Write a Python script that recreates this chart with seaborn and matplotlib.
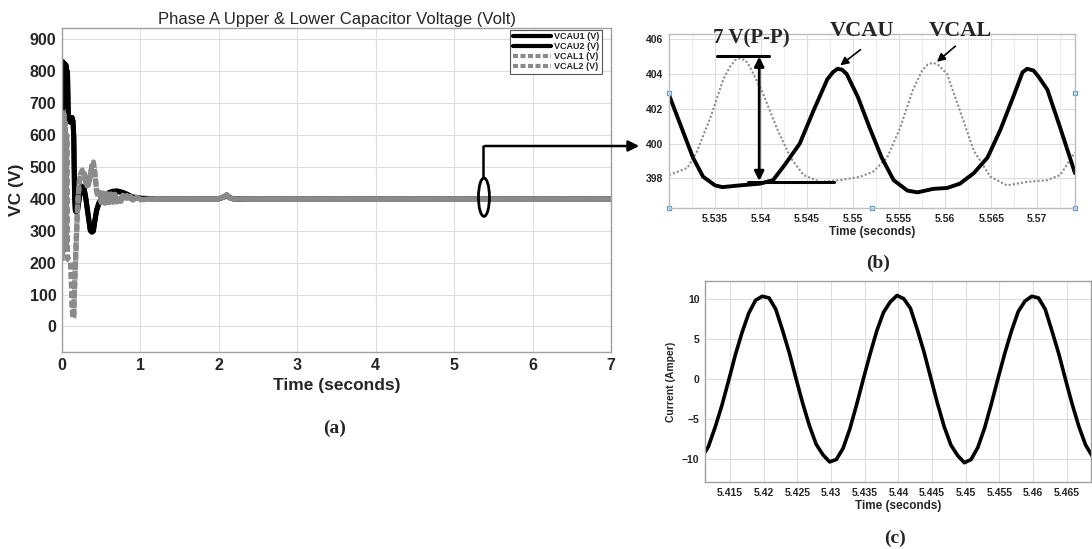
import matplotlib
matplotlib.use("Agg")
import matplotlib.pyplot as plt
import seaborn as sns
from matplotlib.patches import Ellipse, FancyArrowPatch
from matplotlib.lines import Line2D

# ---------------- panel (a): capacitor voltages, 0..7 s ----------------
t_vcau1 = [0.0, 0.01, 0.02, 0.03, 0.04, 0.05, 0.06, 0.07, 0.08, 0.09,
           0.10, 0.11, 0.12, 0.13, 0.14, 0.15, 0.16, 0.17, 0.18,
           0.20, 0.22, 0.25, 0.28, 0.30, 0.32, 0.34, 0.36, 0.38, 0.40,
           0.42, 0.44, 0.47, 0.50,
           0.55, 0.60, 0.65, 0.70, 0.75, 0.80, 0.85, 0.90, 1.00,
           1.20, 1.50, 2.00, 2.06, 2.10, 2.14, 2.20, 2.30,
           3.0, 4.0, 5.0, 6.0, 7.0]
v_vcau1 = [650, 830, 700, 825, 690, 820, 700, 800, 660, 655,
           640, 655, 645, 655, 640, 600, 420, 365, 360,
           365, 400, 440, 435, 410, 375, 340, 305, 295, 298,
           330, 360, 385, 395,
           410, 418, 422, 425, 422, 418, 412, 406, 402,
           400, 400, 400, 406, 412, 404, 398, 400,
           400, 400, 400, 400, 400]
t_vcau2 = t_vcau1
v_vcau2 = [640, 825, 705, 820, 695, 815, 705, 795, 655, 650,
           645, 650, 640, 650, 645, 590, 410, 362, 358,
           368, 405, 436, 430, 405, 370, 335, 300, 298, 302,
           335, 365, 388, 398,
           412, 420, 424, 423, 420, 416, 410, 405, 401,
           400, 400, 400, 405, 411, 403, 399, 400,
           400, 400, 400, 400, 400]

t_vcal1 = [0.0, 0.008, 0.016, 0.024, 0.032, 0.04, 0.05, 0.06, 0.07, 0.08,
           0.09, 0.10, 0.11, 0.12, 0.13, 0.14, 0.15, 0.16, 0.18, 0.20,
           0.22, 0.24, 0.26, 0.28, 0.30, 0.32, 0.34, 0.36, 0.38, 0.40,
           0.42, 0.44, 0.46, 0.48, 0.50, 0.525, 0.55, 0.575, 0.60, 0.625,
           0.65, 0.675, 0.70, 0.725, 0.75, 0.775, 0.80, 0.825, 0.85, 0.875,
           0.90, 0.95, 1.00, 1.20, 1.50, 2.00, 2.06, 2.10, 2.14, 2.20,
           2.30, 3.0, 4.0, 5.0, 6.0, 7.0]
v_vcal1 = [210, 670, 240, 665, 250, 640, 260, 600, 215, 212,
           210, 208, 205, 150, 60, 25, 30, 120, 250, 380,
           450, 480, 490, 485, 460, 440, 445, 470, 505, 515,
           480, 430, 405, 420, 388, 418, 386, 416, 388, 415,
           389, 414, 390, 412, 392, 411, 393, 410, 394, 408,
           395, 405, 397, 400, 400, 400, 406, 413, 404, 398,
           400, 400, 400, 400, 400, 400]
t_vcal2 = t_vcal1
v_vcal2 = [205, 660, 235, 655, 245, 630, 255, 590, 212, 210,
           208, 206, 200, 140, 55, 28, 35, 130, 260, 390,
           455, 478, 486, 480, 455, 438, 448, 475, 500, 510,
           475, 425, 408, 416, 391, 415, 389, 413, 390, 412,
           391, 411, 392, 410, 393, 409, 394, 408, 395, 406,
           396, 404, 398, 400, 400, 400, 405, 412, 403, 399,
           400, 400, 400, 400, 400, 400]

# ---------------- panel (b): zoom of VCAU / VCAL ----------------
t_b_u = [5.5300, 5.5326, 5.5337, 5.5350, 5.5358, 5.5377, 5.5399, 5.5413,
         5.5426, 5.5442, 5.5457, 5.5472, 5.5478, 5.5483, 5.5488, 5.5493,
         5.5505, 5.5518, 5.5531, 5.5544, 5.5559, 5.5570, 5.5587, 5.5602,
         5.5616, 5.5631, 5.5646, 5.5660, 5.5674, 5.5684, 5.5689, 5.5696,
         5.5702, 5.5711, 5.5725, 5.5741]
v_b_u = [402.8, 399.2, 398.1, 397.6, 397.5, 397.6, 397.7, 397.9,
         398.8, 400.0, 401.9, 403.7, 404.1, 404.3, 404.25, 404.0,
         402.7, 400.9, 399.2, 397.9, 397.3, 397.2, 397.4, 397.45,
         397.7, 398.3, 399.2, 400.8, 402.7, 404.1, 404.3, 404.2,
         403.8, 403.1, 400.9, 398.3]
t_b_l = [5.5300, 5.5320, 5.5330, 5.5345, 5.5359, 5.5366, 5.5372, 5.5377,
         5.5383, 5.5388, 5.5402, 5.5417, 5.5432, 5.5446, 5.5464, 5.5486,
         5.5508, 5.5522, 5.5537, 5.5551, 5.5565, 5.5575, 5.5581, 5.5587,
         5.5593, 5.5602, 5.5616, 5.5631, 5.5649, 5.5667, 5.5689, 5.5711,
         5.5725, 5.5741]
v_b_l = [398.2, 398.6, 399.5, 401.5, 403.7, 404.4, 404.8, 404.9,
         404.8, 404.4, 402.9, 400.9, 399.2, 398.2, 397.8, 397.9,
         398.1, 398.4, 399.2, 400.9, 403.1, 404.2, 404.55, 404.65,
         404.5, 404.0, 401.9, 399.6, 398.1, 397.6, 397.8, 397.9,
         398.2, 399.5]
b_xticks = [5.535, 5.54, 5.545, 5.55, 5.555, 5.56, 5.565, 5.57]
b_xlabels = ["5.535", "5.54", "5.545", "5.55", "5.555", "5.56", "5.565", "5.57"]
b_yticks = [398, 400, 402, 404, 406]

# ---------------- panel (c): phase current ----------------
t_c = [round(5.4108 + 0.001 * k, 4) for k in range(59)]
i_c = [-9.8, -8.4, -6.0, -3.3, -0.2, 3.0, 5.8, 8.2, 9.8, 10.3,
       10.1, 8.7, 6.1, 3.3, 0.1, -3.0, -5.8, -8.1, -9.4, -10.3,
       -10.0, -8.6, -6.2, -3.2, 0.0, 3.1, 6.0, 8.3, 9.6, 10.4,
       10.0, 8.8, 6.2, 3.4, 0.2, -3.0, -5.9, -8.2, -9.5, -10.4,
       -10.0, -8.5, -6.1, -3.1, 0.1, 3.2, 6.0, 8.4, 9.7, 10.3,
       10.1, 8.7, 6.0, 3.2, 0.0, -3.1, -5.9, -8.2, -9.6]
c_xticks = [5.415, 5.42, 5.425, 5.43, 5.435, 5.44, 5.445, 5.45, 5.455, 5.46, 5.465]
c_xlabels = ["5.415", "5.42", "5.425", "5.43", "5.435", "5.44", "5.445",
             "5.45", "5.455", "5.46", "5.465"]
c_yticks = [-10, -5, 0, 5, 10]

sns.set_theme(style="whitegrid")
plt.rcParams["font.family"] = ["Liberation Sans", "DejaVu Sans"]
plt.rcParams["grid.color"] = "#dedede"
plt.rcParams["grid.linewidth"] = 0.8
plt.rcParams["axes.edgecolor"] = "#a0a0a0"
plt.rcParams["axes.linewidth"] = 1.0

W, H = 1092, 549
fig = plt.figure(figsize=(W / 100, H / 100), dpi=100)


def box(l, t, r, b):
    return fig.add_axes([l / W, 1 - b / H, (r - l) / W, (b - t) / H])


def draw(ax, t, v, color, lw, label=None, ls=None, dashes=None):
    sns.lineplot(x=t, y=v, ax=ax, color=color, linewidth=lw,
                 estimator=None, sort=False, legend=False)
    line = ax.lines[-1]
    if ls is not None:
        line.set_linestyle(ls)
    if dashes is not None:
        line.set_dashes(dashes)
    if label:
        line.set_label(label)
    return line


def style_ticks(ax, size):
    ax.tick_params(axis="both", which="both", direction="in", length=3,
                   color="#a0a0a0", labelsize=size, labelcolor="#262626", pad=4)
    for lab in ax.get_xticklabels() + ax.get_yticklabels():
        lab.set_fontweight("bold")


# ---- (a)
ax_a = box(62, 28, 611, 352)
grey = "#8a8a8a"
h1 = draw(ax_a, t_vcau1, v_vcau1, "black", 3.6, "VCAU1 (V)")
h2 = draw(ax_a, t_vcau2, v_vcau2, "black", 3.6, "VCAU2 (V)")
h3 = draw(ax_a, t_vcal1, v_vcal1, grey, 3.8, "VCAL1 (V)", (0, (1.2, 0.6)))
h4 = draw(ax_a, t_vcal2, v_vcal2, grey, 3.8, "VCAL2 (V)", (0.8, (1.2, 0.6)))
ax_a.set_xlim(0, 7)
ax_a.set_ylim(-80, 935)
ax_a.set_xticks(range(0, 8))
ax_a.set_yticks(range(0, 1000, 100))
style_ticks(ax_a, 11.5)
ax_a.set_title("Phase A Upper & Lower Capacitor Voltage (Volt)", fontsize=12,
               color="#262626", pad=3)
ax_a.set_xlabel("Time (seconds)", fontsize=12.5, fontweight="bold", color="#262626", labelpad=4)
ax_a.set_ylabel("VC (V)", fontsize=12.5, fontweight="bold", color="#262626", labelpad=4)
leg = ax_a.legend(handles=[h1, h2, h3, h4], loc="upper right",
                  bbox_to_anchor=(0.984, 0.995), borderaxespad=0,
                  prop={"weight": "bold", "size": 6.5}, handlelength=4.2,
                  handletextpad=0.4, labelspacing=0.1, borderpad=0.3,
                  fancybox=False, framealpha=1, edgecolor="#555555")
leg.get_frame().set_linewidth(0.8)
for lh in leg.get_lines():
    lh.set_linewidth(3.0)
leg.get_lines()[3].set_linestyle((0, (1.2, 0.6)))
ax_a.add_patch(Ellipse((5.38, 405), width=0.14, height=120, fill=False,
                       ec="black", lw=2, zorder=5))

# connector from (a) to (b)
fig.add_artist(Line2D([483 / W, 483 / W], [1 - 178 / H, 1 - 146 / H],
                      transform=fig.transFigure, color="black", lw=1.8))
fig.add_artist(FancyArrowPatch((482 / W, 1 - 146 / H), (642 / W, 1 - 146 / H),
                               transform=fig.transFigure, arrowstyle="-|>",
                               mutation_scale=16, color="black", lw=1.8))

# ---- (b)
ax_b = box(669, 34, 1075, 208)
draw(ax_b, t_b_l, v_b_l, "#8c8c8c", 1.5, dashes=(1, 1))
draw(ax_b, t_b_u, v_b_u, "black", 2.8)
ax_b.set_xlim(5.5300, 5.5741)
ax_b.set_ylim(396.3, 406.3)
ax_b.set_xticks(b_xticks)
ax_b.set_xticklabels(b_xlabels)
ax_b.set_yticks(b_yticks)
ax_b.set_xticks([x + 0.0025 for x in b_xticks] + [5.5325], minor=True)
ax_b.grid(which="minor", color="#ececec", lw=0.7)
style_ticks(ax_b, 7.5)
ax_b.set_xlabel("Time (seconds)", fontsize=8.5, fontweight="bold", color="#262626", labelpad=2)
for sp in ax_b.spines.values():
    sp.set_color("#bdbdbd")

serif = ["Liberation Serif", "DejaVu Serif"]
ax_b.plot([5.5352, 5.5409], [405.04, 405.04], color="black", lw=2.2, clip_on=False)
ax_b.plot([5.5386, 5.5479], [397.82, 397.82], color="black", lw=2.2, clip_on=False)
ax_b.annotate("", xy=(5.5398, 397.85), xytext=(5.5398, 405.0),
              arrowprops=dict(arrowstyle="<|-|>", color="black", lw=2, mutation_scale=14,
                              shrinkA=0, shrinkB=0))
ax_b.text(5.5389, 406.05, "7 V(P-P)", family=serif, fontsize=15, fontweight="bold",
          ha="center", va="center", clip_on=False)
ax_b.text(5.5510, 406.5, "VCAU", family=serif, fontsize=16, fontweight="bold",
          ha="center", va="center", clip_on=False)
ax_b.text(5.5616, 406.5, "VCAL", family=serif, fontsize=16, fontweight="bold",
          ha="center", va="center", clip_on=False)
ax_b.annotate("", xy=(5.5486, 404.5), xytext=(5.5508, 405.4),
              arrowprops=dict(arrowstyle="-|>", color="black", lw=1.2, mutation_scale=12,
                              shrinkA=0, shrinkB=0))
ax_b.annotate("", xy=(5.5591, 404.7), xytext=(5.5611, 405.6),
              arrowprops=dict(arrowstyle="-|>", color="black", lw=1.2, mutation_scale=12,
                              shrinkA=0, shrinkB=0))
# selection handles on the edited axes
ax_b.plot([0, 0, 0.5, 1, 1], [0.66, 0, 0, 0.66, 0], ls="none", marker="s", ms=3.5,
          mfc="white", mec="#5b9bd5", mew=0.9, transform=ax_b.transAxes, clip_on=False)

# ---- (c)
ax_c = box(705, 281, 1091, 482)
draw(ax_c, t_c, i_c, "black", 2.6)
ax_c.set_xlim(5.4113, 5.4686)
ax_c.set_ylim(-12.8, 12.2)
ax_c.set_xticks(c_xticks)
ax_c.set_xticklabels(c_xlabels)
ax_c.set_yticks(c_yticks)
style_ticks(ax_c, 7.5)
ax_c.set_xlabel("Time (seconds)", fontsize=8.5, fontweight="bold", color="#262626", labelpad=2)
ax_c.set_ylabel("Current (Amper)", fontsize=7.5, fontweight="bold", color="#262626", labelpad=4)

# panel captions
fig.text(335 / W, 1 - 428 / H, "(a)", family=serif, fontsize=14, fontweight="bold",
         ha="center", va="center")
fig.text(878 / W, 1 - 263 / H, "(b)", family=serif, fontsize=14, fontweight="bold",
         ha="center", va="center")
fig.text(895 / W, 1 - 538 / H, "(c)", family=serif, fontsize=14, fontweight="bold",
         ha="center", va="center")

fig.savefig("out.png", dpi=100)
